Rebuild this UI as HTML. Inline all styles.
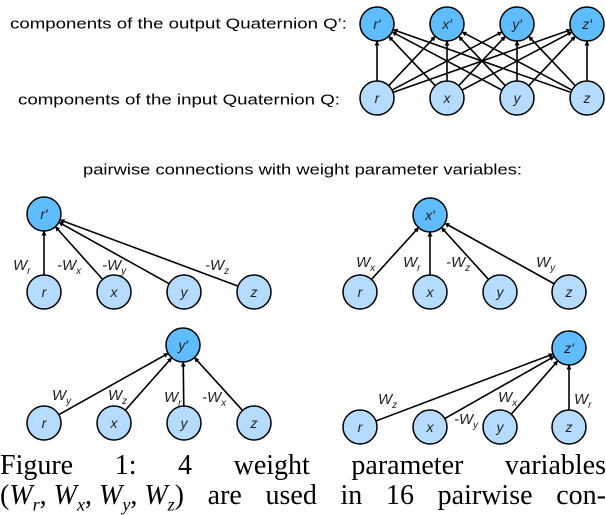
<!DOCTYPE html>
<html><head><meta charset="utf-8"><style>
html,body{margin:0;padding:0;background:#fff;}
body{width:606px;height:512px;position:relative;overflow:hidden;}
svg{position:absolute;left:0;top:0;}
.cap{position:absolute;left:0;width:606px;font-family:"Liberation Serif",serif;font-size:28px;display:flex;justify-content:space-between;line-height:1;color:#000;}
</style></head><body>
<svg width="606" height="512" viewBox="0 0 606 512">
<defs>
<marker id="a" viewBox="0 0 10 10" refX="9" refY="5" markerWidth="5" markerHeight="5" orient="auto-start-reverse" markerUnits="userSpaceOnUse">
<path d="M0,0 L10,5 L0,10 z" fill="#000"/></marker>
<style>
.e{stroke:#000;stroke-width:1.6;fill:none;marker-end:url(#a);}
.o{fill:#5ebcff;stroke:#000;stroke-width:1.5;}
.i{fill:#b5dcff;stroke:#000;stroke-width:1.5;}
.nt{font-family:"Liberation Sans",sans-serif;font-style:italic;font-size:14px;fill:#222;text-anchor:middle;dominant-baseline:central;}
.t{font-family:"Liberation Sans",sans-serif;font-size:15px;fill:#000;dominant-baseline:central;}
.w{font-family:"Liberation Sans",sans-serif;font-style:italic;font-size:15px;fill:#222;}
.s{font-size:10px;}
</style>
</defs>
<text class="t" x="10" y="24" textLength="337" lengthAdjust="spacingAndGlyphs">components of the output Quaternion Q’:</text>
<text class="t" x="18" y="100" textLength="322" lengthAdjust="spacingAndGlyphs">components of the input Quaternion Q:</text>
<text class="t" x="83" y="170" textLength="439" lengthAdjust="spacingAndGlyphs">pairwise connections with weight parameter variables:</text>
</svg>
<div class="cap" style="top:452px"><span>Figure</span><span>1:</span><span>4</span><span>weight</span><span>parameter</span><span>variables</span></div>
<div class="cap" style="top:482px"><span>(<i>W</i><sub style="font-size:18px"><i>r</i></sub>, <i>W</i><sub style="font-size:18px"><i>x</i></sub>, <i>W</i><sub style="font-size:18px"><i>y</i></sub>, <i>W</i><sub style="font-size:18px"><i>z</i></sub>)</span><span>are</span><span>used</span><span>in</span><span>16</span><span>pairwise</span><span>con-</span></div>
<script>
var NS="http://www.w3.org/2000/svg",svg=document.querySelector('svg'),R=17;
function el(t,a,txt){var e=document.createElementNS(NS,t);for(var k in a)e.setAttribute(k,a[k]);if(txt)e.textContent=txt;svg.appendChild(e);return e;}
function edge(x1,y1,x2,y2){var dx=x2-x1,dy=y2-y1,d=Math.hypot(dx,dy),ux=dx/d,uy=dy/d;
el('line',{class:'e',x1:x1+ux*R,y1:y1+uy*R,x2:x2-ux*R,y2:y2-uy*R});}
function node(x,y,c,l){el('ellipse',{class:c,cx:x,cy:y,rx:R,ry:R});el('text',{class:'nt',x:x,y:y},l);}
var L=['r','x','y','z'];
var ox=[377,447,517,587];
for(var i=0;i<4;i++)for(var j=0;j<4;j++)edge(ox[i],98,ox[j],24);
for(var i=0;i<4;i++){node(ox[i],24,'o',L[i]+'′');node(ox[i],98,'i',L[i]);}
function group(xs,iy,px,py,pl){for(var i=0;i<4;i++)edge(xs[i],iy,px,py);node(px,py,'o',pl);for(var i=0;i<4;i++)node(xs[i],iy,'i',L[i]);}
group([44,114,184,254],292,44,214,'r′');
group([360,430,500,569],292,430,215,'x′');
group([44,114,184,254],423,183,345,'y′');
group([360,430,500,569],427,569,348,'z′');
function w(x,y,neg,sub){var t=el('text',{class:'w',x:x,y:y});t.innerHTML=(neg?'-':'')+'W<tspan class="s" dy="4">'+sub+'</tspan>';}
w(13,270,0,'r');w(57,270,1,'x');w(102,270,1,'y');w(205,270,1,'z');
w(356,267,0,'x');w(403,267,0,'r');w(446,267,1,'z');w(536,267,0,'y');
w(52,400,0,'y');w(108,400,0,'z');w(164,402,0,'r');w(202,402,1,'x');
w(378,404,0,'z');w(454,424,1,'y');w(498,402,0,'x');w(574,404,0,'r');
</script>
</body></html>
